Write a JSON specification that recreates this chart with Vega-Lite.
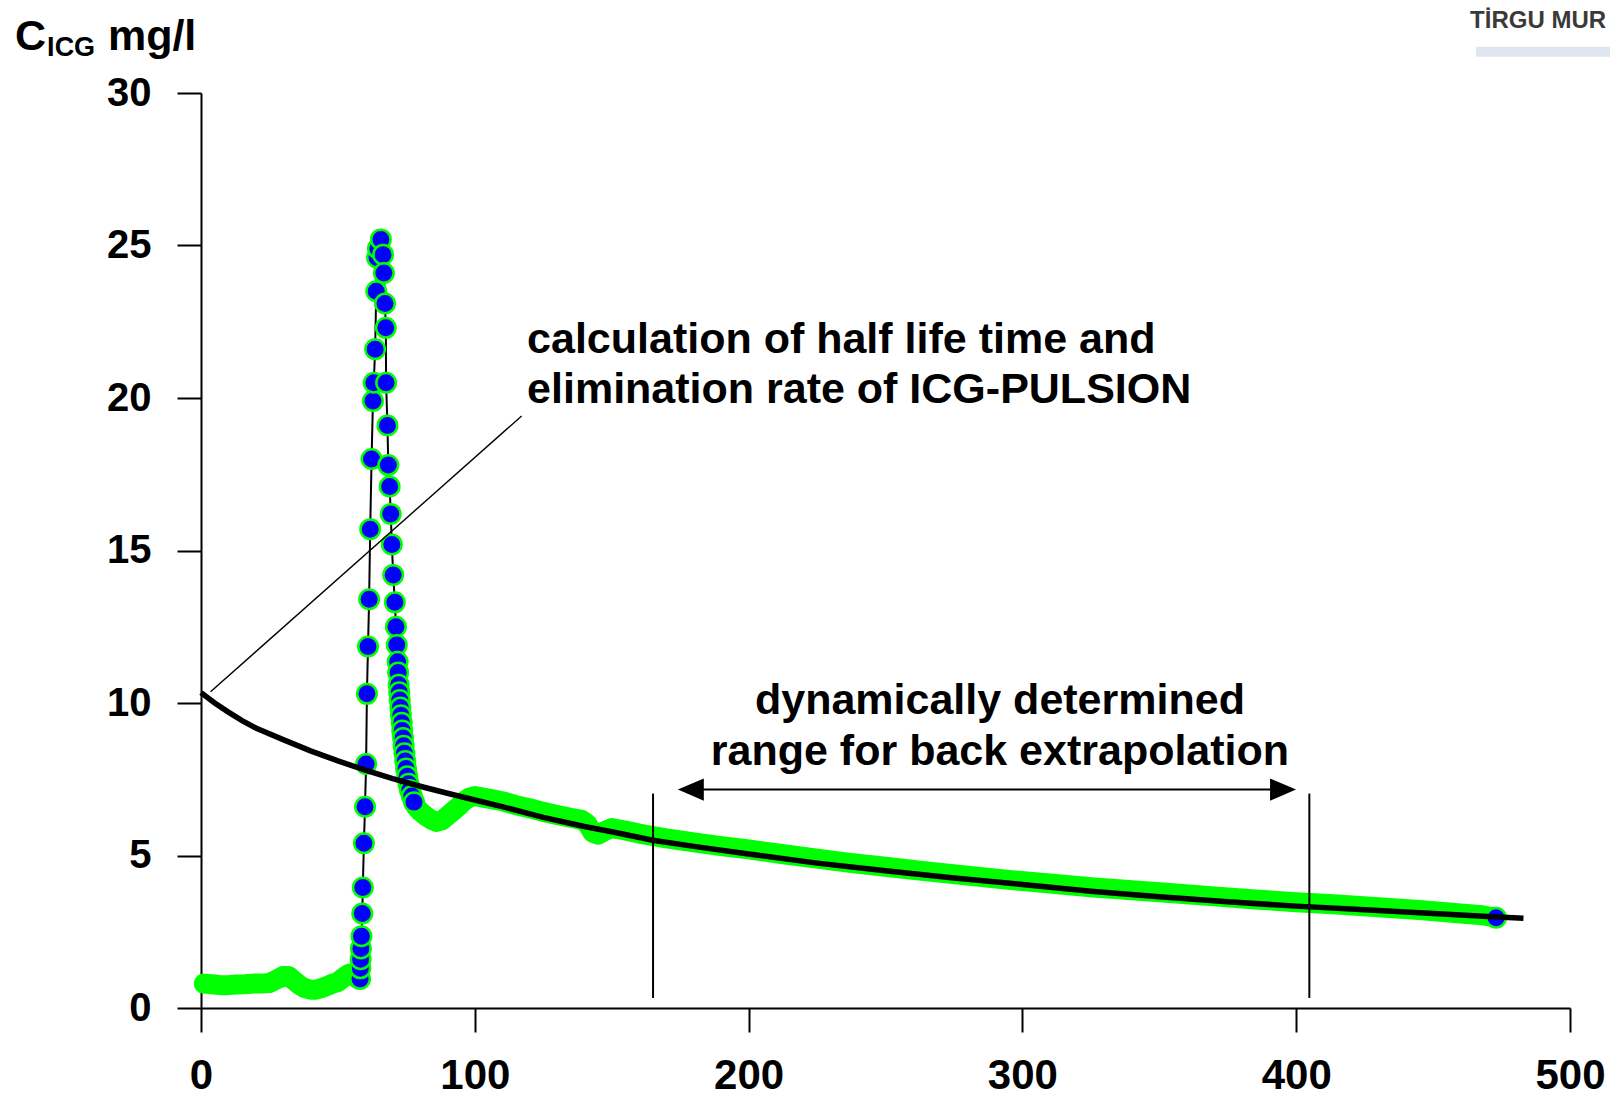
{
  "$schema": "https://vega.github.io/schema/vega-lite/v6.json",
  "width": 1369,
  "height": 915,
  "autosize": {"type": "none"},
  "padding": {"left": 201, "top": 93, "right": 40, "bottom": 90},
  "background": "white",
  "config": {
    "view": {"stroke": null},
    "axis": {
      "domainColor": "black", "domainWidth": 2, "tickColor": "black", "tickWidth": 2,
      "tickSize": 24, "grid": false, "labelColor": "black", "labelFont": "Liberation Sans",
      "labelFontWeight": "bold", "labelFlush": false, "labelOverlap": false
    }
  },
  "datasets": {
    "measured": [
      {"t":1,"c":0.8},{"t":4,"c":0.78},{"t":7,"c":0.75},{"t":10,"c":0.75},{"t":13,"c":0.77},{"t":16,"c":0.78},{"t":19,"c":0.8},{"t":22,"c":0.8},{"t":25,"c":0.82},{"t":28,"c":0.95},{"t":30,"c":1.05},{"t":32,"c":1.05},{"t":34,"c":0.9},{"t":36,"c":0.75},{"t":38,"c":0.65},{"t":40,"c":0.6},{"t":42,"c":0.6},{"t":44,"c":0.65},{"t":46,"c":0.72},{"t":48,"c":0.8},{"t":50,"c":0.85},{"t":52,"c":1.0},{"t":54,"c":1.12},{"t":55.5,"c":1.1},{"t":56.5,"c":1.0},{"t":57.3,"c":0.95},
      {"t":58.1,"c":0.95},{"t":58.2,"c":1.3},{"t":58.3,"c":1.6},{"t":58.4,"c":1.95},{"t":58.6,"c":2.35},{"t":58.9,"c":3.1},{"t":59.1,"c":3.95},{"t":59.5,"c":5.4},{"t":59.9,"c":6.6},{"t":60.3,"c":8.0},{"t":60.6,"c":10.3},{"t":61.0,"c":11.85},{"t":61.4,"c":13.4},{"t":61.8,"c":15.7},{"t":62.3,"c":18.0},{"t":62.8,"c":19.9},{"t":63.1,"c":20.5},{"t":63.6,"c":21.6},{"t":64.0,"c":23.5},{"t":64.3,"c":24.6},{"t":64.6,"c":24.9},{"t":65.7,"c":25.2},
      {"t":66.5,"c":24.7},{"t":66.8,"c":24.1},{"t":67.2,"c":23.1},{"t":67.5,"c":22.3},{"t":67.6,"c":20.5},{"t":68.1,"c":19.1},{"t":68.4,"c":17.8},{"t":68.9,"c":17.1},{"t":69.3,"c":16.2},{"t":69.7,"c":15.2},{"t":70.2,"c":14.2},{"t":70.8,"c":13.3},{"t":71.2,"c":12.5},{"t":71.5,"c":11.9},{"t":71.8,"c":11.35},{"t":72.0,"c":11.0},{"t":72.2,"c":10.6},{"t":72.4,"c":10.35},{"t":72.6,"c":10.1},{"t":72.8,"c":9.85},{"t":73.0,"c":9.6},{"t":73.3,"c":9.35},{"t":73.5,"c":9.1},{"t":73.8,"c":8.85},{"t":74.0,"c":8.6},{"t":74.3,"c":8.35},{"t":74.6,"c":8.1},{"t":74.9,"c":7.85},{"t":75.3,"c":7.6},{"t":75.8,"c":7.35},{"t":76.3,"c":7.15},{"t":77.0,"c":6.95},{"t":77.8,"c":6.75},
      {"t":78.5,"c":6.6},{"t":80,"c":6.45},{"t":82,"c":6.3},{"t":84,"c":6.18},{"t":86,"c":6.1},{"t":88,"c":6.15},{"t":90,"c":6.3},{"t":92,"c":6.45},{"t":94,"c":6.6},{"t":96,"c":6.78},{"t":98,"c":6.9},{"t":100,"c":6.95},{"t":103,"c":6.9},{"t":106,"c":6.85},{"t":110,"c":6.78},{"t":115,"c":6.65},{"t":120,"c":6.55},{"t":125,"c":6.43},{"t":130,"c":6.33},{"t":135,"c":6.24},{"t":139,"c":6.17},{"t":141,"c":6.05},{"t":143,"c":5.75},{"t":145,"c":5.68},{"t":147,"c":5.78},{"t":150,"c":5.9},{"t":155,"c":5.82},{"t":160,"c":5.72},{"t":165,"c":5.64},{"t":170,"c":5.56},{"t":180,"c":5.43},{"t":190,"c":5.31},{"t":200,"c":5.2},{"t":212,"c":5.05},{"t":225,"c":4.9},{"t":237,"c":4.76},{"t":250,"c":4.63},{"t":265,"c":4.48},{"t":280,"c":4.34},{"t":295,"c":4.2},{"t":310,"c":4.08},{"t":325,"c":3.96},{"t":340,"c":3.86},{"t":355,"c":3.76},{"t":370,"c":3.66},{"t":385,"c":3.56},{"t":400,"c":3.47},{"t":415,"c":3.39},{"t":430,"c":3.3},{"t":445,"c":3.21},{"t":460,"c":3.1},{"t":468,"c":3.04},{"t":473,"c":2.96}
    ],
    "fit": [
      {"t":0,"c":10.34},{"t":5,"c":10.0},{"t":10,"c":9.7},{"t":15,"c":9.42},{"t":20,"c":9.18},{"t":30,"c":8.8},{"t":40,"c":8.43},{"t":50,"c":8.1},{"t":60,"c":7.8},{"t":70,"c":7.52},{"t":80,"c":7.27},{"t":90,"c":7.04},{"t":100,"c":6.82},{"t":110,"c":6.6},{"t":125,"c":6.25},{"t":140,"c":5.95},{"t":150,"c":5.78},{"t":165,"c":5.5},{"t":180,"c":5.3},{"t":200,"c":5.05},{"t":225,"c":4.75},{"t":250,"c":4.5},{"t":275,"c":4.26},{"t":300,"c":4.05},{"t":325,"c":3.83},{"t":350,"c":3.65},{"t":375,"c":3.48},{"t":400,"c":3.34},{"t":425,"c":3.22},{"t":450,"c":3.1},{"t":470,"c":3.0},{"t":483,"c":2.94}
    ]
  },
  "encoding": {
    "x": {"field": "t", "type": "quantitative",
      "scale": {"domain": [0, 500], "nice": false, "zero": false},
      "axis": {"title": null, "values": [0,100,200,300,400,500], "labelFontSize": 42, "labelPadding": 23}},
    "y": {"field": "c", "type": "quantitative",
      "scale": {"domain": [0, 30], "nice": false, "zero": false},
      "axis": {"title": null, "values": [0,5,10,15,20,25,30], "labelFontSize": 40, "labelPadding": 26}}
  },
  "layer": [
    {"data": {"name": "measured"}, "mark": {"type": "line", "color": "black", "strokeWidth": 2}},
    {"data": {"name": "measured"}, "transform": [{"filter": "datum.t <= 57.5"}],
      "mark": {"type": "line", "color": "#00ff00", "strokeWidth": 20, "strokeCap": "round", "strokeJoin": "round"}},
    {"data": {"name": "measured"}, "transform": [{"filter": "datum.t >= 77.8"}],
      "mark": {"type": "line", "color": "#00ff00", "strokeWidth": 20, "strokeCap": "round", "strokeJoin": "round"}},
    {"data": {"name": "measured"}, "transform": [{"filter": "(datum.t >= 57.8 && datum.t <= 77.8) || datum.t >= 472"}],
      "mark": {"type": "circle", "fill": "#0000ff", "stroke": "#00ff00", "strokeWidth": 2.5, "size": 380, "opacity": 1}},
    {"data": {"name": "fit"}, "mark": {"type": "line", "color": "black", "strokeWidth": 5.5}},
    {"data": {"values": [{"t": 3.5, "c": 10.37, "t2": 117.1, "c2": 19.41}]},
      "mark": {"type": "rule", "color": "black", "strokeWidth": 1.4},
      "encoding": {"x2": {"field": "t2"}, "y2": {"field": "c2"}}},
    {"data": {"values": [{"t": 165.1, "c": 0.33, "c2": 7.03}, {"t": 404.8, "c": 0.33, "c2": 7.03}]},
      "mark": {"type": "rule", "color": "black", "strokeWidth": 2},
      "encoding": {"y2": {"field": "c2"}}},
    {"data": {"values": [{"t": 179, "t2": 395, "c": 7.16}]},
      "mark": {"type": "rule", "color": "black", "strokeWidth": 2},
      "encoding": {"x2": {"field": "t2"}}},
    {"data": {"values": [{"t": 178.9, "c": 7.16, "dir": "left"}, {"t": 395.2, "c": 7.16, "dir": "right"}]},
      "mark": {"type": "point", "filled": true, "color": "black", "size": 676, "opacity": 1},
      "encoding": {"shape": {"field": "dir", "type": "nominal", "legend": null,
        "scale": {"domain": ["left", "right"], "range": ["M1,-0.85L-1,0L1,0.85Z", "M-1,-0.85L1,0L-1,0.85Z"]}}}},
    {"data": {"values": [{"t": 119.1, "c": 21.48, "label": "calculation of half life time and\nelimination rate of ICG-PULSION"}]},
      "mark": {"type": "text", "font": "Liberation Sans", "fontWeight": "bold", "fontSize": 43, "align": "left", "baseline": "alphabetic", "lineBreak": "\n", "lineHeight": 50, "color": "black"},
      "encoding": {"text": {"field": "label"}}},
    {"data": {"values": [{"t": 291.8, "c": 9.65, "label": "dynamically determined\nrange for back extrapolation"}]},
      "mark": {"type": "text", "font": "Liberation Sans", "fontWeight": "bold", "fontSize": 43, "align": "center", "baseline": "alphabetic", "lineBreak": "\n", "lineHeight": 51, "color": "black"},
      "encoding": {"text": {"field": "label"}}},
    {"data": {"values": [{"t": -67.9, "c": 31.41, "label": "C"}, {"t": -34.0, "c": 31.41, "label": "mg/l"}]},
      "mark": {"type": "text", "font": "Liberation Sans", "fontWeight": "bold", "fontSize": 43, "align": "left", "baseline": "alphabetic", "color": "black"},
      "encoding": {"text": {"field": "label"}}},
    {"data": {"values": [{"t": -56.2, "c": 31.2, "label": "ICG"}]},
      "mark": {"type": "text", "font": "Liberation Sans", "fontWeight": "bold", "fontSize": 27, "align": "left", "baseline": "alphabetic", "color": "black"},
      "encoding": {"text": {"field": "label"}}},
    {"data": {"values": [{"t": 465.7, "t2": 514.6, "c": 31.52, "c2": 31.19}]},
      "mark": {"type": "rect", "color": "#dfe5f1"},
      "encoding": {"x2": {"field": "t2"}, "y2": {"field": "c2"}}},
    {"data": {"values": [{"t": 463.5, "c": 32.12, "label": "TİRGU MUR"}]},
      "mark": {"type": "text", "font": "Liberation Sans", "fontWeight": "bold", "fontSize": 24, "align": "left", "baseline": "alphabetic", "color": "#3a3a3a"},
      "encoding": {"text": {"field": "label"}}}
  ]
}
